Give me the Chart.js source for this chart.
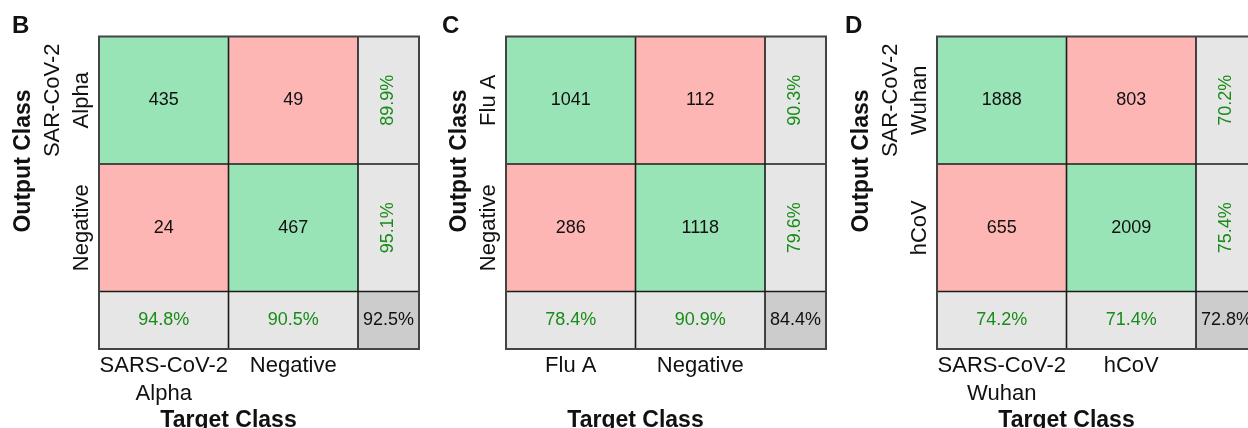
<!DOCTYPE html>
<html><head><meta charset="utf-8">
<script src="https://cdn.jsdelivr.net/npm/chart.js@4.4.0/dist/chart.umd.min.js"></script>
<style>
html,body{margin:0;padding:0;background:#fff;overflow:hidden;width:1248px;height:428px}
canvas{position:absolute;left:0;top:0}
</style></head><body>
<canvas id="c0" width="1270" height="428"></canvas>
<canvas id="c1" width="1270" height="428"></canvas>
<canvas id="c2" width="1270" height="428"></canvas>
<script>
// ---- data ----
const panelLetters = ['B', 'C', 'D'];
const targetClasses = [
  [['SARS-CoV-2', 'Alpha'], ['Negative']],
  [['Flu A'], ['Negative']],
  [['SARS-CoV-2', 'Wuhan'], ['hCoV']]
];
const outputClasses = [
  [['SAR-CoV-2', 'Alpha'], ['Negative']],
  [['Flu A'], ['Negative']],
  [['SAR-CoV-2', 'Wuhan'], ['hCoV']]
];
const countsB = [[435, 49], [24, 467]];
const countsC = [[1041, 112], [286, 1118]];
const countsD = [[1888, 803], [655, 2009]];
const rowPercentB = [89.9, 95.1];
const rowPercentC = [90.3, 79.6];
const rowPercentD = [70.2, 75.4];
const colPercentB = [94.8, 90.5];
const colPercentC = [78.4, 90.9];
const colPercentD = [74.2, 71.4];
const overallPercent = [92.5, 84.4, 72.8];
const axisTitles = { x: 'Target Class', y: 'Output Class' };

const allCounts = [countsB, countsC, countsD];
const allRowPct = [rowPercentB, rowPercentC, rowPercentD];
const allColPct = [colPercentB, colPercentC, colPercentD];

// ---- layout / style ----
const FONT = '"Liberation Sans", Arial, Helvetica, sans-serif';
const L = {
  gridLeft: [99, 506, 937], gridTop: 36.5, gridBottom: 349, gridWidth: 320,
  sumW: 0.471, sumH: 0.451, canvasW: 1270, canvasH: 428,
  letterX: [12, 442, 845]
};
const COL = {
  green: 'rgb(152,228,182)', red: 'rgb(254,182,180)', light: 'rgb(230,230,230)',
  dark: 'rgb(204,204,204)', greenText: 'rgb(24,140,24)', text: '#111',
  inner: '#1c1c1c', outer: '#444'
};
const fmt = v => v.toFixed(1) + '%';

const matrixPlugin = {
  id: 'confMatrix',
  afterDatasetsDraw(chart, args, opts) {
    const p = opts.panel;
    const ctx = chart.ctx;
    const xs = chart.scales.x, ys = chart.scales.y;
    const colE = [0, 1, 2, 2 + L.sumW], rowE = [0, 1, 2, 2 + L.sumH];
    const px = v => xs.getPixelForValue(v), py = v => ys.getPixelForValue(v);
    const data = chart.data.datasets[0].data;
    ctx.save();
    // cell fills
    for (let r = 0; r < 3; r++) {
      for (let c = 0; c < 3; c++) {
        let fill;
        if (r < 2 && c < 2) fill = r === c ? COL.green : COL.red;
        else if (r === 2 && c === 2) fill = COL.dark;
        else fill = COL.light;
        ctx.fillStyle = fill;
        const x0 = px(colE[c]), x1 = px(colE[c + 1]), y0 = py(rowE[r]), y1 = py(rowE[r + 1]);
        ctx.fillRect(x0, y0, x1 - x0, y1 - y0);
      }
    }
    // inner lines
    ctx.strokeStyle = COL.inner; ctx.lineWidth = 1.6;
    ctx.beginPath();
    for (const c of [1, 2]) { ctx.moveTo(px(colE[c]), py(0)); ctx.lineTo(px(colE[c]), py(rowE[3])); }
    for (const r of [1, 2]) { ctx.moveTo(px(0), py(rowE[r])); ctx.lineTo(px(colE[3]), py(rowE[r])); }
    ctx.stroke();
    // outer border
    ctx.strokeStyle = COL.outer; ctx.lineWidth = 2;
    ctx.strokeRect(px(0), py(0), px(colE[3]) - px(0), py(rowE[3]) - py(0));

    // counts
    ctx.textAlign = 'center'; ctx.textBaseline = 'middle';
    ctx.font = '18px ' + FONT; ctx.fillStyle = COL.text;
    for (const d of data) ctx.fillText(String(d.v), px(d.x), py(d.y));
    // row percentages (rotated)
    const sumCx = px(2 + L.sumW / 2);
    ctx.fillStyle = COL.greenText;
    allRowPct[p].forEach((v, r) => {
      ctx.save(); ctx.translate(sumCx, py(r + 0.5)); ctx.rotate(-Math.PI / 2);
      ctx.fillText(fmt(v), 0, 0); ctx.restore();
    });
    const sumCy = py(2 + L.sumH / 2);
    allColPct[p].forEach((v, c) => ctx.fillText(fmt(v), px(c + 0.5), sumCy));
    ctx.fillStyle = COL.text;
    ctx.fillText(fmt(overallPercent[p]), sumCx, sumCy);

    // output class labels (rotated)
    ctx.font = '22px ' + FONT; ctx.fillStyle = COL.text;
    const left = px(0);
    let maxN = 1;
    outputClasses[p].forEach((lines, r) => {
      maxN = Math.max(maxN, lines.length);
      const n = lines.length;
      ctx.save(); ctx.translate(left - 17, py(r + 0.5)); ctx.rotate(-Math.PI / 2);
      lines.forEach((t, k) => ctx.fillText(t, 0, -(n - 1 - k) * 29));
      ctx.restore();
    });
    const outerX = left - 17 - (maxN - 1) * 29;
    ctx.font = 'bold 23px ' + FONT;
    ctx.save(); ctx.translate(outerX - 29.5, 161); ctx.rotate(-Math.PI / 2);
    ctx.fillText(axisTitles.y, 0, 0); ctx.restore();

    // target class labels
    ctx.font = '22px ' + FONT; ctx.textBaseline = 'alphabetic';
    targetClasses[p].forEach((lines, c) => {
      lines.forEach((t, k) => ctx.fillText(t, px(c + 0.5), 371.5 + k * 28.5));
    });
    ctx.font = 'bold 23px ' + FONT;
    ctx.fillText(axisTitles.x, px(1), 426.5);

    // panel letter
    ctx.textAlign = 'left'; ctx.font = 'bold 24px ' + FONT;
    ctx.fillText(panelLetters[p], L.letterX[p], 33);
    ctx.restore();
  }
};

panelLetters.forEach((letter, p) => {
  const pts = [];
  allCounts[p].forEach((row, r) => row.forEach((v, c) => pts.push({ x: c + 0.5, y: r + 0.5, v })));
  const left = L.gridLeft[p];
  new Chart(document.getElementById('c' + p), {
    type: 'scatter',
    data: { datasets: [{ label: letter, data: pts, pointRadius: 0, pointHoverRadius: 0 }] },
    options: {
      responsive: false, animation: false, devicePixelRatio: 1,
      layout: { padding: { left: left, right: L.canvasW - left - L.gridWidth, top: L.gridTop, bottom: L.canvasH - L.gridBottom } },
      scales: {
        x: { type: 'linear', min: 0, max: 2 + L.sumW, display: false },
        y: { type: 'linear', min: 0, max: 2 + L.sumH, reverse: true, display: false }
      },
      plugins: { legend: { display: false }, tooltip: { enabled: false }, confMatrix: { panel: p } },
      events: []
    },
    plugins: [matrixPlugin]
  });
});
</script>
</body></html>
